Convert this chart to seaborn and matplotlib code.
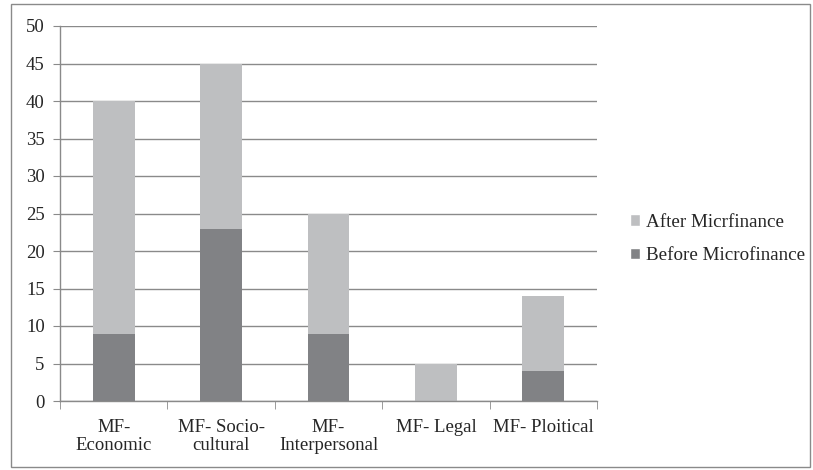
import pandas as pd
import matplotlib.pyplot as plt
import seaborn as sns
from matplotlib.patches import Patch, Rectangle
from matplotlib.ticker import FixedLocator

categories = ["MF-\nEconomic", "MF- Socio-\ncultural", "MF-\nInterpersonal", "MF- Legal", "MF- Ploitical"]
before = [9, 23, 9, 0, 4]
after = [31, 22, 16, 5, 10]

light = "#bebfc1"
dark = "#818285"

df = pd.DataFrame({"cat": categories, "before": before, "after": after})
df["total"] = df["before"] + df["after"]

sns.set_style("white")
plt.rcParams["font.family"] = ["Liberation Serif", "DejaVu Serif"]

fig = plt.figure(figsize=(8.13, 4.70), dpi=100)
ax = fig.add_axes([60 / 813, 1 - 401 / 470, (597 - 60) / 813, (401 - 26) / 470])

sns.barplot(data=df, x="cat", y="total", color=light, width=0.39, saturation=1,
            linewidth=0, ax=ax, zorder=2)
sns.barplot(data=df, x="cat", y="before", color=dark, width=0.39, saturation=1,
            linewidth=0, ax=ax, zorder=3)

ax.set_ylim(0, 50)
ax.set_xlim(-0.5, 4.5)
ax.set_yticks(range(0, 51, 5))
ax.grid(axis="y", color="#8a8a8a", linewidth=1, zorder=0)
ax.set_axisbelow(True)
for s in ["top", "right"]:
    ax.spines[s].set_visible(False)
for s in ["left", "bottom"]:
    ax.spines[s].set_color("#8a8a8a")
    ax.spines[s].set_linewidth(1)

ax.tick_params(axis="y", left=True, length=5, color="#8a8a8a", labelsize=13.5, pad=6)
ax.tick_params(axis="x", which="major", length=0, labelsize=13.5, pad=13)
for lbl in ax.get_xticklabels():
    lbl.set_linespacing(1.1)
ax.xaxis.set_minor_locator(FixedLocator([-0.5, 0.5, 1.5, 2.5, 3.5, 4.5]))
ax.tick_params(axis="x", which="minor", bottom=True, length=6, color="#8a8a8a")
ax.set_xlabel("")
ax.set_ylabel("")

handles = [Patch(facecolor=light, label="After Micrfinance"),
           Patch(facecolor=dark, label="Before Microfinance")]
fig.legend(handles=handles, loc="center left", bbox_to_anchor=(620 / 813, 1 - 239 / 470),
           frameon=False, fontsize=13.7, handlelength=0.55, handleheight=0.55,
           handletextpad=0.3, labelspacing=0.85, borderpad=0)

fig.patches.append(Rectangle((11 / 813, 3 / 470), (810 - 11) / 813, (466 - 3) / 470,
                             transform=fig.transFigure, fill=False, edgecolor="#8a8a8a",
                             linewidth=1))

fig.savefig("out.png", dpi=100)
